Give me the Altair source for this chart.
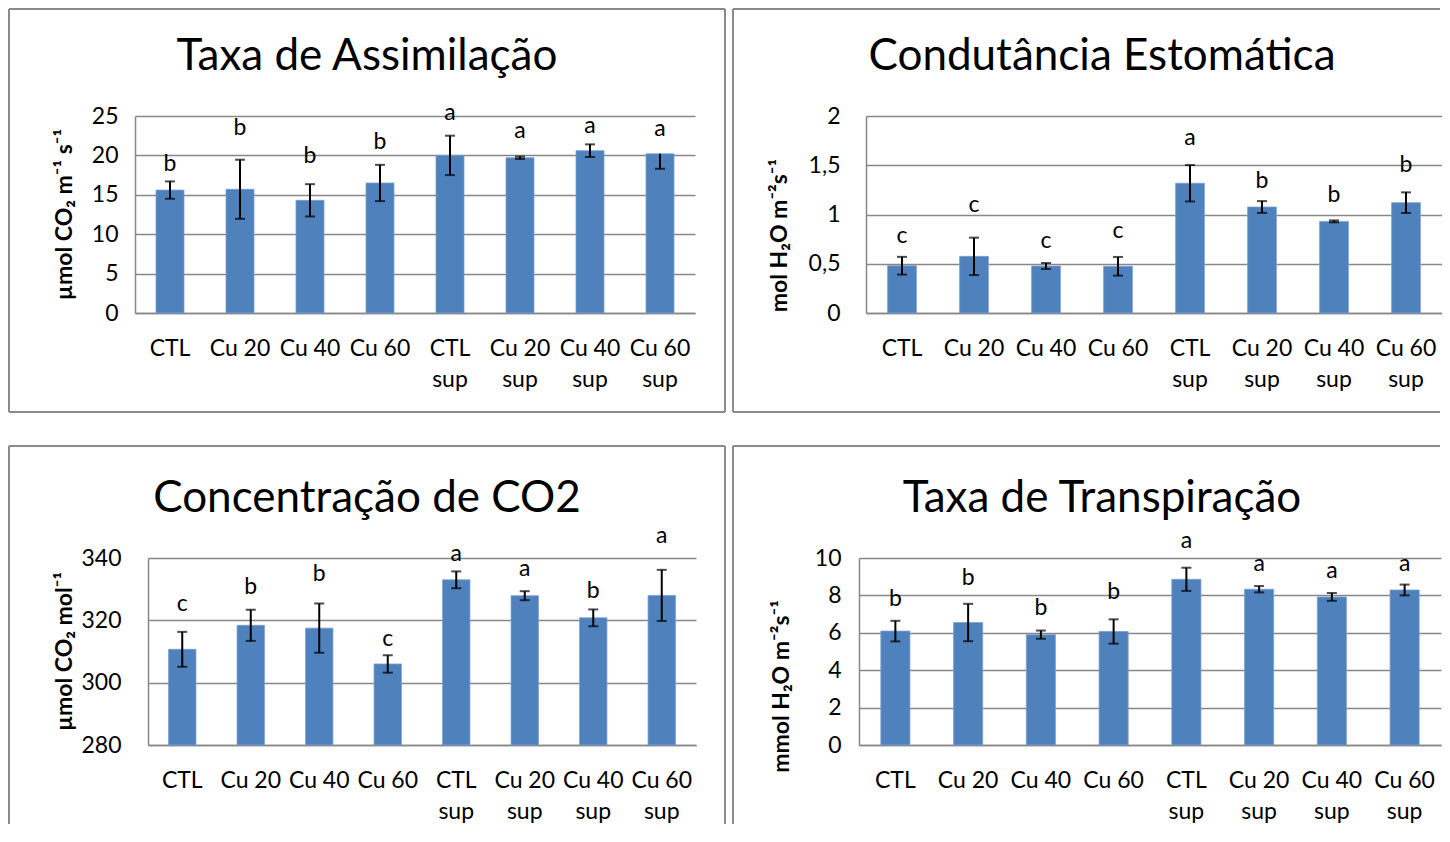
import altair as alt
import pandas as pd

cats = ["CTL", "Cu 20", "Cu 40", "Cu 60", "CTL sup", "Cu 20 sup", "Cu 40 sup", "Cu 60 sup"]

# Taxa de Assimilação
a_val = [15.6, 15.7, 14.3, 16.5, 20.0, 19.7, 20.6, 20.2]
a_up = [1.1, 3.75, 2.05, 2.3, 2.5, 0.15, 0.8, 0.0]
a_dn = [1.1, 3.75, 2.05, 2.3, 2.5, 0.15, 0.8, 1.9]
a_let = ["b", "b", "b", "b", "a", "a", "a", "a"]
a_let_y = [18.9, 23.5, 19.9, 21.7, 25.4, 23.1, 23.7, 23.35]
a_ticks = [0, 5, 10, 15, 20, 25]

# Condutância Estomática
g_val = [0.48, 0.575, 0.477, 0.474, 1.317, 1.076, 0.93, 1.12]
g_err = [0.09, 0.19, 0.03, 0.095, 0.185, 0.06, 0.01, 0.105]
g_let = ["c", "c", "c", "c", "a", "b", "b", "b"]
g_let_y = [0.785, 1.096, 0.734, 0.83, 1.774, 1.337, 1.198, 1.503]
g_ticks = [0, 0.5, 1, 1.5, 2]

# Concentração de CO2
c_val = [310.7, 318.4, 317.5, 306.0, 333.0, 327.9, 320.8, 328.0]
c_err = [5.6, 5.0, 7.9, 2.8, 2.7, 1.45, 2.7, 8.2]
c_let = ["c", "b", "b", "c", "a", "a", "b", "a"]
c_let_y = [325.2, 330.6, 334.9, 314.0, 341.3, 336.5, 329.5, 347.2]
c_ticks = [280, 300, 320, 340]

# Taxa de Transpiração
t_val = [6.09, 6.55, 5.9, 6.07, 8.86, 8.33, 7.92, 8.29]
t_err = [0.55, 1.0, 0.22, 0.65, 0.62, 0.17, 0.21, 0.29]
t_let = ["b", "b", "b", "b", "a", "a", "a", "a"]
t_let_y = [7.81, 8.92, 7.31, 8.2, 10.92, 9.68, 9.32, 9.68]
t_ticks = [0, 2, 4, 6, 8, 10]

FONT = "Lato, 'Noto Sans'"
GRID = "#878787"
BORDER = "#8a8a8a"
BAR = "#4f81bd"


def panel(title, ytitle, vals, ups, dns, lets, lys, ticks, width, height,
          xrange, yoff, ypad, title_xy, ytitle_xy, hlines, vlines, ylabel_expr=None):
    df = pd.DataFrame({
        "cat": cats,
        "val": vals,
        "hi": [v + u for v, u in zip(vals, ups)],
        "lo": [v - d for v, d in zip(vals, dns)],
        "up": ups,
        "letter": lets,
        "ly": lys,
    })
    xenc = alt.X(
        "cat:N", sort=cats,
        scale=alt.Scale(range=xrange, paddingInner=0.6, paddingOuter=0.3),
        axis=alt.Axis(
            title=None, labelAngle=0, ticks=False, domain=True, domainColor=GRID,
            domainWidth=1.5, labelFont=FONT, labelFontSize=23, labelColor="black",
            labelPadding=24, labelLineHeight=31, labelOverlap=False,
            labelExpr="indexof(datum.label, ' sup') > 0 ? [replace(datum.label, ' sup', ''), 'sup'] : datum.label",
        ),
    )
    axis_kw = dict(
        values=ticks, grid=True, gridColor=GRID, gridWidth=1.5, domain=True,
        domainColor=GRID, domainWidth=1.5, ticks=False, labelFont=FONT,
        labelFontSize=23, labelColor="black", labelPadding=ypad, title=ytitle,
        titleFont=FONT, titleFontSize=23, titleFontWeight="bold", titleColor="black",
        titleX=ytitle_xy[0], titleY=ytitle_xy[1], titleAngle=270, titleAlign="center",
        titleBaseline="middle", offset=yoff,
    )
    if ylabel_expr:
        axis_kw["labelExpr"] = ylabel_expr
    yscale = alt.Scale(domain=[ticks[0], ticks[-1]], nice=False, zero=False)

    def yenc(field):
        return alt.Y(field, scale=yscale, axis=alt.Axis(**axis_kw))

    base = alt.Chart(df)
    bars = base.mark_bar(color=BAR, stroke="#7a9fd0", strokeWidth=0.8).encode(
        x=xenc, y=yenc("val:Q"), y2=alt.datum(ticks[0]))
    err = base.mark_rule(color="black", strokeWidth=2).encode(x=xenc, y=yenc("lo:Q"), y2="hi:Q")
    cap_lo = base.mark_tick(color="black", size=10, thickness=2).encode(x=xenc, y=yenc("lo:Q"))
    cap_hi = base.transform_filter("datum.up > 0").mark_tick(
        color="black", size=10, thickness=2).encode(x=xenc, y=yenc("hi:Q"))
    txt = base.mark_text(font=FONT, fontSize=23, baseline="middle", color="black").encode(
        x=xenc, y=yenc("ly:Q"), text="letter:N")

    one = pd.DataFrame({"t": [title]})
    ttl = alt.Chart(one).mark_text(font=FONT, fontSize=44, baseline="alphabetic",
                                   align="center", color="black").encode(
        x=alt.value(title_xy[0]), y=alt.value(title_xy[1]), text="t:N")

    layers = [bars, err, cap_lo, cap_hi, txt, ttl]
    for (x1, x2, y1) in hlines:
        layers.append(alt.Chart(one).mark_rule(color=BORDER, strokeWidth=2).encode(
            x=alt.value(x1), x2=alt.value(x2), y=alt.value(y1)))
    for (x1, y1, y2) in vlines:
        layers.append(alt.Chart(one).mark_rule(color=BORDER, strokeWidth=2).encode(
            x=alt.value(x1), y=alt.value(y1), y2=alt.value(y2)))
    return alt.layer(*layers).properties(width=width, height=height)


p1 = panel("Taxa de Assimilação", "µmol CO₂ m⁻¹ s⁻¹", a_val, a_up, a_dn, a_let, a_let_y,
           a_ticks, 560, 197, [0, 560], 0, 17, (232, -46), (-71, 98),
           hlines=[(-126, 590, -107), (-126, 590, 296)],
           vlines=[(-126, -107, 296), (590, -107, 296)])
p2 = panel("Condutância Estomática", "mol H₂O m⁻²s⁻¹", g_val, g_err, g_err, g_let, g_let_y,
           g_ticks, 576, 197, [0, 576], 0, 26, (236, -46), (-87, 119),
           hlines=[(-133, 574, -107), (-133, 574, 296)],
           vlines=[(-133, -107, 296)],
           ylabel_expr="replace(toString(datum.value), '.', ',')")
p3 = panel("Concentração de CO2", "µmol CO₂ mol⁻¹", c_val, c_err, c_err, c_let, c_let_y,
           c_ticks, 561, 187, [13, 561], -13, 27, (232, -46), (-84, 93),
           hlines=[(-126, 590, -112)],
           vlines=[(-126, -112, 266), (590, -112, 266)])
p4 = panel("Taxa de Transpiração", "mmol H₂O m⁻²s⁻¹", t_val, t_err, t_err, t_let, t_let_y,
           t_ticks, 582, 187, [0, 582], 0, 18, (243, -46), (-78, 128),
           hlines=[(-126, 581, -112)],
           vlines=[(-126, -112, 266)])

row1 = alt.hconcat(p1, p2, spacing=171, bounds="flush")
row2 = alt.hconcat(p3, p4, spacing=163, bounds="flush")
chart = alt.vconcat(row1, row2, spacing=442, bounds="flush").configure_view(
    stroke=None).properties(padding={"left": 0, "top": 0, "right": 0, "bottom": 0})

chart.save("out.html", embed_options={"renderer": "svg", "actions": False})
